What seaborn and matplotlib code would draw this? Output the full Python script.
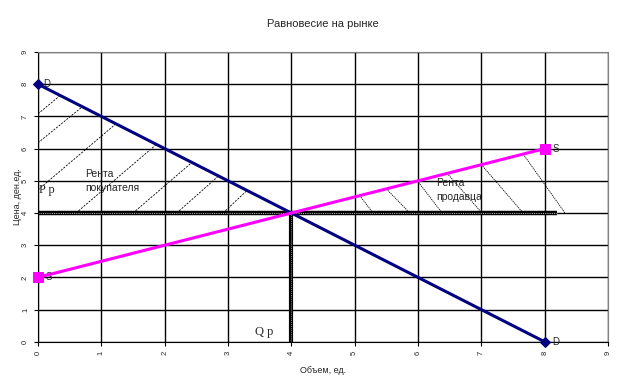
import pandas as pd
import seaborn as sns
import matplotlib.pyplot as plt

# данные: спрос и предложение
qty_d = [0, 8]
price_d = [8, 0]
qty_s = [0, 8]
price_s = [2, 6]

# равновесие
q_eq = 4
p_eq = 4
p_line_end = 8.2

# штриховка ренты покупателя (начало -> конец на линии D)
cons_x0 = [0, 0, 0, 0.6, 1.5, 2.19, 2.92]
cons_y0 = [7.08, 6.18, 4.72, 4, 4, 4, 4]
cons_x1 = [0.35, 0.7, 1.23, 1.87, 2.43, 2.85, 3.3]
cons_y1 = [7.65, 7.3, 6.77, 6.13, 5.57, 5.15, 4.7]

# штриховка ренты продавца (начало на линии S -> конец на P p)
sell_x0 = [5.08, 5.5, 5.99, 6.46, 7.0, 7.66]
sell_y0 = [4.54, 4.75, 5.0, 5.23, 5.5, 5.83]
sell_x1 = [5.29, 5.87, 6.38, 7.01, 7.66, 8.32]
sell_y1 = [4, 4, 4, 4, 4, 4]

sns.set_style("white")
plt.rcParams['font.family'] = ['Liberation Sans', 'DejaVu Sans']

fig = plt.figure(figsize=(6.23, 3.88), dpi=100)
ax = fig.add_axes([0.061, 0.119, 0.915, 0.747])

# сетка
ax.set_xlim(0, 9)
ax.set_ylim(0, 9)
ax.set_xticks(range(0, 10))
ax.set_yticks(range(0, 10))
ax.grid(True, color="black", lw=1)
ax.set_axisbelow(True)

for a, b, c, d in zip(cons_x0, cons_y0, cons_x1, cons_y1):
    ax.plot([a, c], [b, d], color="black", lw=0.6, ls=(0, (2.5, 1.5)))
for a, b, c, d in zip(sell_x0, sell_y0, sell_x1, sell_y1):
    ax.plot([a, c], [b, d], color="black", lw=0.6, ls=(0, (1.5, 1)))

# линии P p и Q p
ax.plot([0, p_line_end], [p_eq, p_eq], color="black", lw=3.2, solid_capstyle="butt")
ax.plot([0, p_line_end], [p_eq, p_eq], color="#aaaaaa", lw=0.8, ls=(0, (1, 1)))
ax.plot([q_eq, q_eq], [0, p_eq], color="black", lw=3.0, solid_capstyle="butt")
ax.plot([q_eq, q_eq], [0, p_eq], color="#888888", lw=0.7, ls=(0, (1, 1)))

dem = pd.DataFrame({"q": qty_d, "p": price_d})
sup = pd.DataFrame({"q": qty_s, "p": price_s})
sns.lineplot(data=dem, x="q", y="p", ax=ax, color="#000080", lw=2.2,
             marker="D", markersize=5, markeredgecolor="#000080", clip_on=False, zorder=5)
sns.lineplot(data=sup, x="q", y="p", ax=ax, color="#ff00ff", lw=2.2,
             marker="s", markersize=7, markeredgecolor="#ff00ff", clip_on=False, zorder=5)

# подписи
ax.text(qty_d[0] + 0.08, price_d[0], "D", fontsize=7, va="center")
ax.text(qty_d[1] + 0.12, price_d[1], "D", fontsize=7, va="center")
ax.text(qty_s[0] + 0.12, price_s[0], "S", fontsize=7, va="center")
ax.text(qty_s[1] + 0.12, price_s[1], "S", fontsize=7, va="center")
ax.text(0.02, 4.72, "P p", fontsize=9, family="Liberation Serif", va="center")
ax.text(3.42, 0.3, "Q p", fontsize=9, family="Liberation Serif", va="center")
ax.text(0.75, 5.2, "Рента", fontsize=7.5, va="center")
ax.text(0.75, 4.78, "покупателя", fontsize=7.5, va="center")
ax.text(6.28, 4.93, "Рента", fontsize=7.5, va="center")
ax.text(6.28, 4.5, "продавца", fontsize=7.5, va="center")

ax.set_title("Равновесие на рынке", fontsize=8, pad=18)
ax.set_xlabel("Объем, ед.", fontsize=6.5, labelpad=8)
ax.set_ylabel("Цена, ден.ед.", fontsize=6.5, labelpad=0)
ax.tick_params(axis="both", labelsize=5.5, length=3, color="black", direction="out",
               left=True, bottom=True)
plt.setp(ax.get_xticklabels(), rotation=90)
plt.setp(ax.get_yticklabels(), rotation=90, va="center")

for s in ["left", "bottom"]:
    ax.spines[s].set_color("black")
for s in ["top", "right"]:
    ax.spines[s].set_color("#808080")

fig.savefig("out.png", dpi=100)
